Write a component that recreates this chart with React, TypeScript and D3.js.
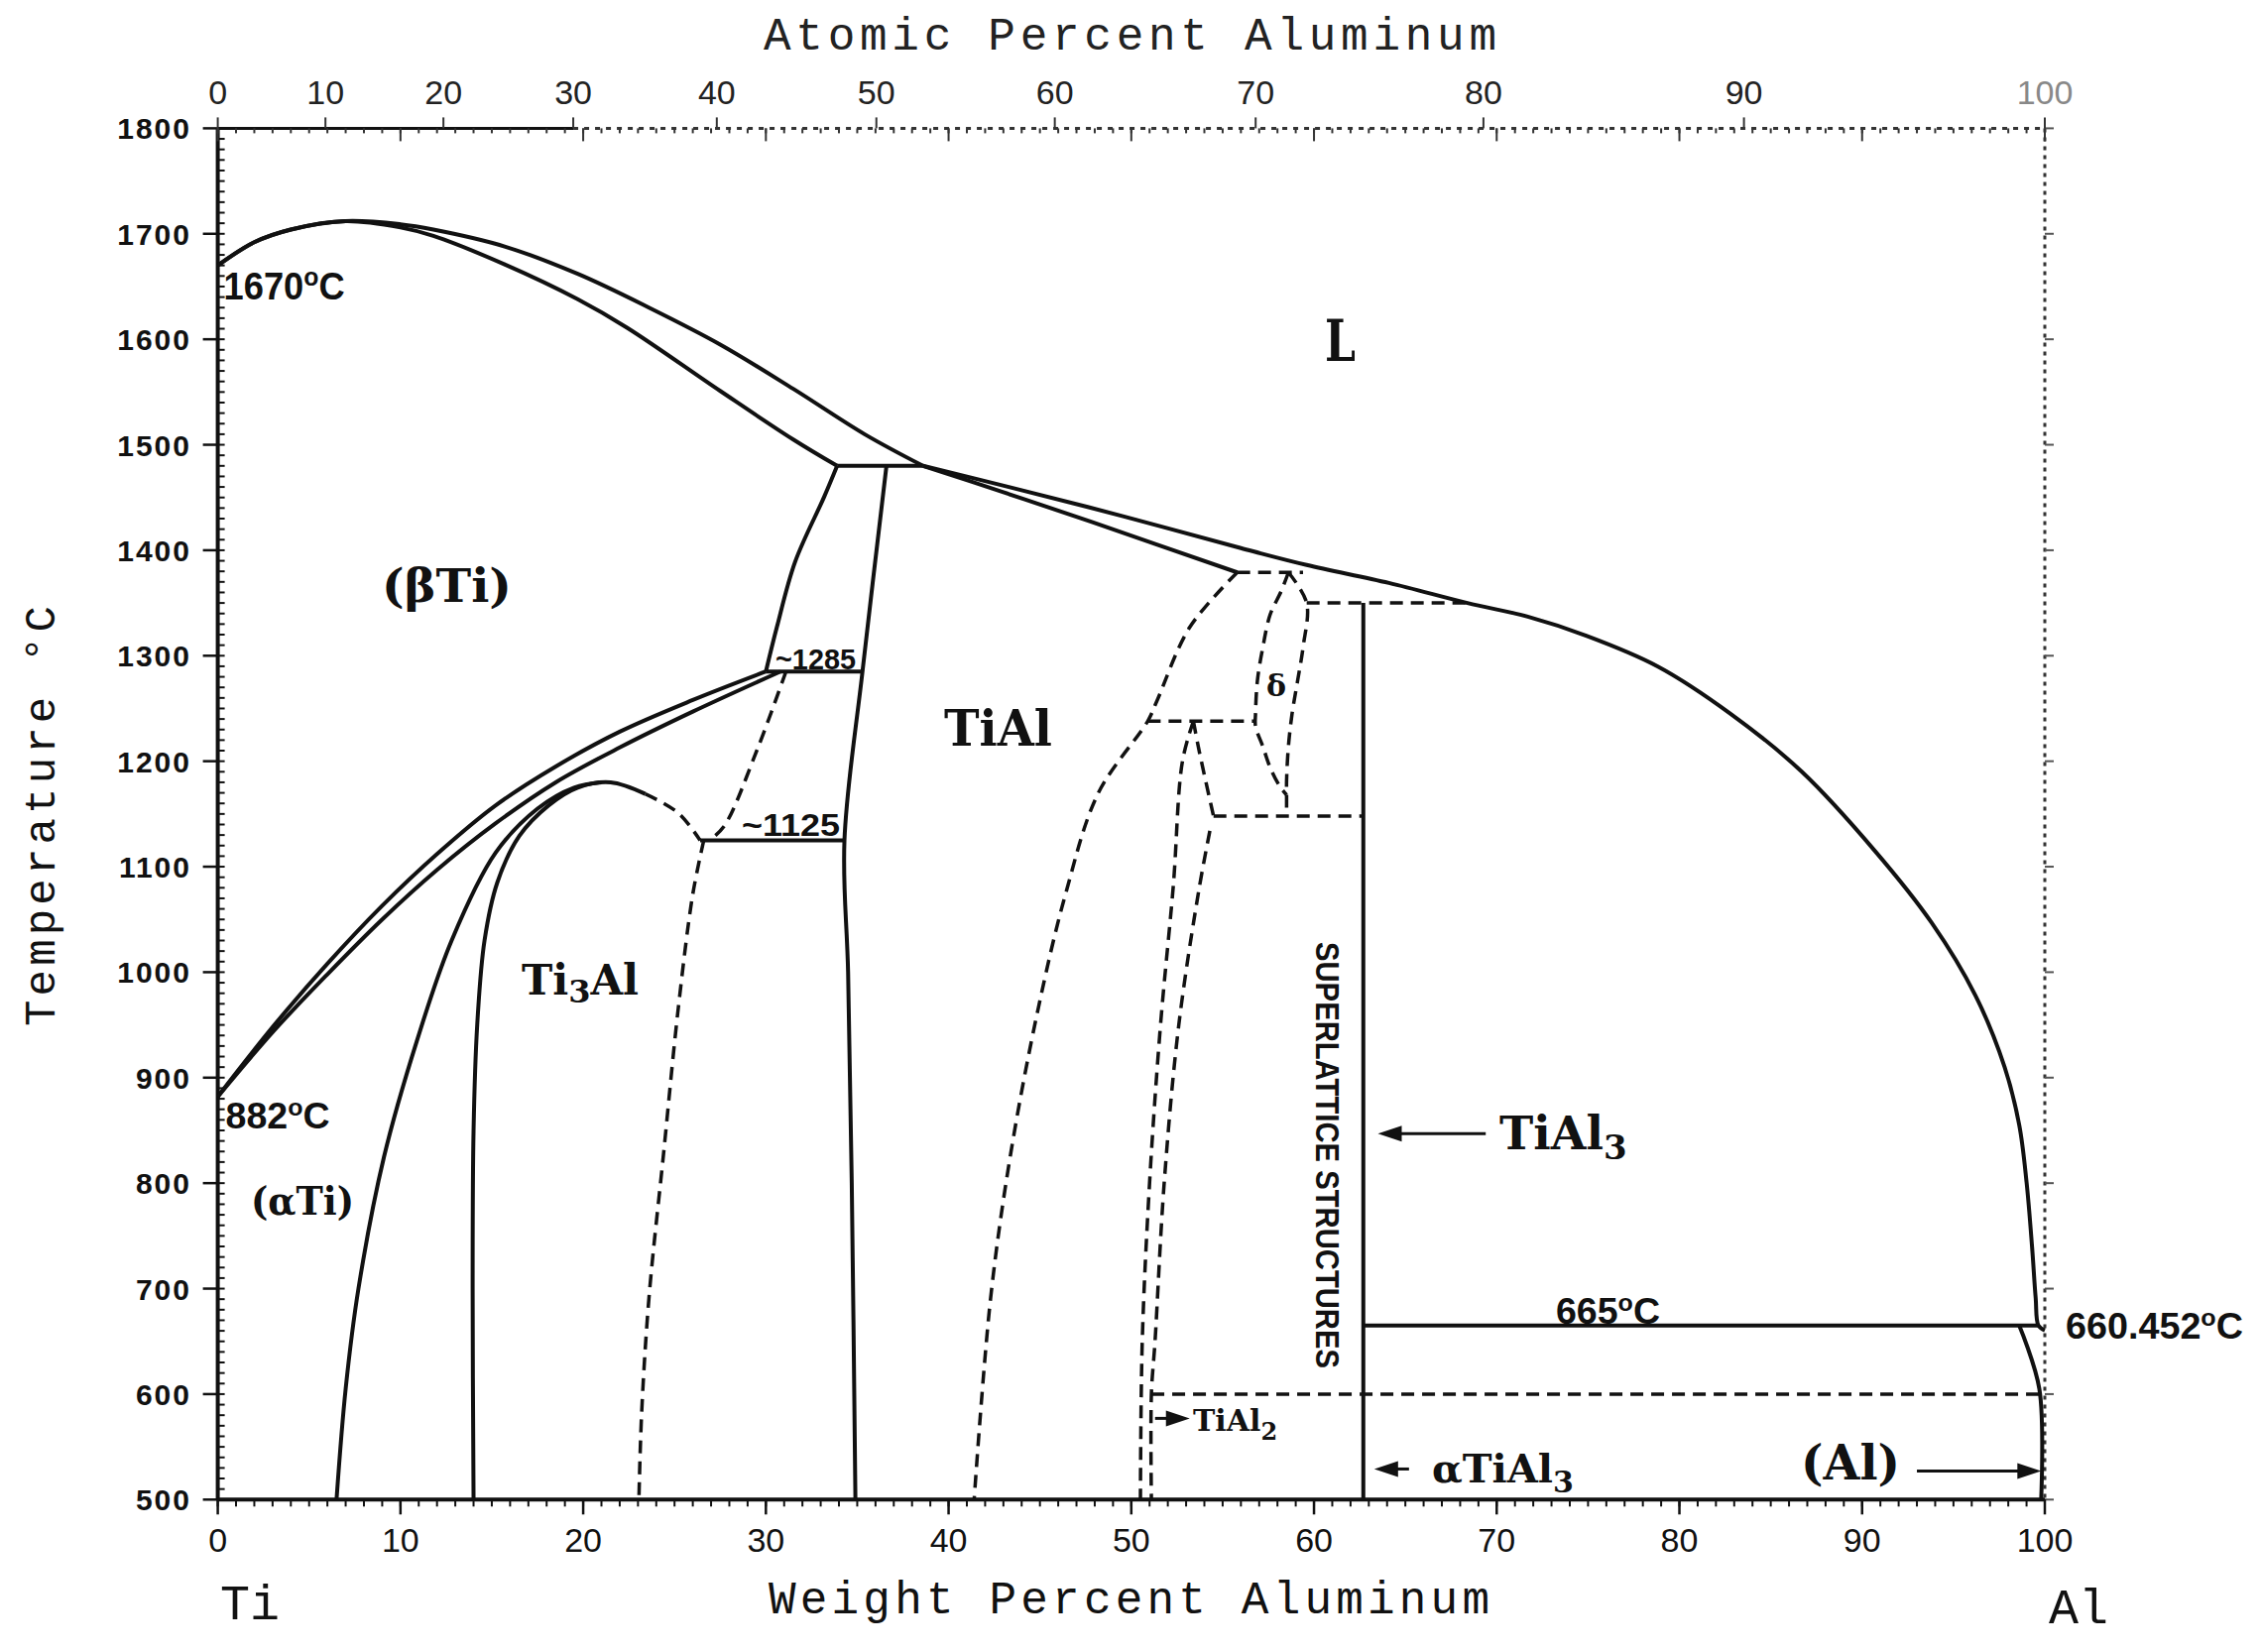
import React from 'react';
import * as d3 from 'd3';

type Pt = [number, number];

// axis ticks
const weightTicks = [0, 10, 20, 30, 40, 50, 60, 70, 80, 90, 100];
const atomicTicks = [0, 10, 20, 30, 40, 50, 60, 70, 80, 90, 100];
const tempTicks = [500, 600, 700, 800, 900, 1000, 1100, 1200, 1300, 1400, 1500, 1600, 1700, 1800];

// phase boundaries: [wt% Al, temperature °C]
const liquidusTi: Pt[] = [[0, 1670], [2, 1692], [4, 1704], [7, 1712], [10, 1709], [11.8, 1704], [15.7, 1688], [19.7, 1662], [23.6, 1630], [27.5, 1595], [31.5, 1553], [35.4, 1510], [38.6, 1480]];
const solidusTi: Pt[] = [[0, 1670], [2, 1692], [4, 1704], [7, 1712], [10, 1706], [11.8, 1698], [15.7, 1671], [19.7, 1638], [22.4, 1611], [27.5, 1551], [31.5, 1505], [33.9, 1480]];
const peritectic1480: Pt[] = [[33.9, 1480], [38.6, 1480]];
const alphaTop: Pt[] = [[33.9, 1480], [33.2, 1451], [31.6, 1389], [30.6, 1327], [30.0, 1285]];
const gammaLeft: Pt[] = [[36.6, 1480], [35.3, 1287], [34.3, 1125], [34.5, 1000], [34.7, 800], [34.9, 500]];
const line1285: Pt[] = [[30.0, 1285], [35.3, 1285]];
const line1125: Pt[] = [[26.4, 1125], [34.3, 1125]];
const betaTransus: Pt[] = [[0, 882], [3.1, 950], [6, 1008], [9, 1063], [12, 1112], [15.2, 1158], [18.5, 1195], [22, 1228], [26, 1258], [30, 1285]];
const alphaTransus: Pt[] = [[0, 882], [3.1, 945], [6, 998], [9, 1050], [12, 1097], [15.2, 1141], [18.5, 1180], [22, 1213], [26, 1247], [30.8, 1285]];
const alphaAlpha2: Pt[] = [[6.5, 500], [7.0, 605], [7.7, 700], [9.1, 825], [10.9, 935], [12.8, 1030], [15.2, 1113], [17.5, 1155], [19.5, 1175], [21, 1180]];
const alpha2Left: Pt[] = [[14.0, 500], [13.95, 700], [14.0, 850], [14.2, 950], [14.6, 1030], [15.3, 1085], [16.5, 1129], [18.1, 1158], [19.7, 1175], [21.5, 1180], [23.4, 1169]];
const liquidusAl: Pt[] = [[38.6, 1480], [43.3, 1460], [49.6, 1432], [56.0, 1402], [59.6, 1386], [64.1, 1369], [68.4, 1350], [71.7, 1337], [74.9, 1319], [78.8, 1290], [82.8, 1245], [86.7, 1190], [90.7, 1115], [93.8, 1047], [96.2, 978], [97.8, 910], [98.6, 855], [99.0, 801], [99.3, 740], [99.5, 691], [99.65, 665], [100, 660.452]];
const gammaSolidus: Pt[] = [[38.6, 1480], [43, 1455], [47.8, 1427], [55.8, 1379]];
const tial3Line: Pt[] = [[62.7, 1350], [62.7, 500]];
const line665: Pt[] = [[62.7, 665], [99.65, 665]];
const alSolvus: Pt[] = [[98.6, 665], [99.7, 605], [99.8, 500]];

// dashed (uncertain) boundaries
const alpha2Dome: Pt[] = [[23.4, 1169], [25.2, 1151], [26.4, 1125]];
const alphaGamma: Pt[] = [[31.1, 1285], [29.5, 1210], [27.7, 1138], [26.9, 1125]];
const alpha2Right: Pt[] = [[26.6, 1125], [26.0, 1074], [25.2, 965], [24.4, 828], [23.6, 691], [23.2, 582], [23.05, 500]];
const gammaRight: Pt[] = [[55.8, 1379], [53.2, 1327], [51.4, 1257], [50.9, 1238], [48.2, 1170], [46.4, 1074], [44.9, 965], [43.4, 828], [42.3, 691], [41.4, 500]];
const line1380: Pt[] = [[55.8, 1379], [59.4, 1379]];
const line1240: Pt[] = [[50.9, 1238], [56.8, 1238]];
const tial2Left: Pt[] = [[53.4, 1238], [52.8, 1200], [52.3, 1082], [51.6, 950], [51.0, 800], [50.6, 650], [50.5, 500]];
const tial2RightUpper: Pt[] = [[53.4, 1238], [53.7, 1211], [54.5, 1148]];
const tial2RightLower: Pt[] = [[54.3, 1134], [53.7, 1078], [52.6, 950], [51.8, 800], [51.3, 650], [51.1, 600], [51.1, 500]];
const line1150: Pt[] = [[54.5, 1148], [62.7, 1148]];
const deltaLeft: Pt[] = [[58.6, 1379], [58.2, 1361], [57.6, 1339], [57.2, 1308], [56.9, 1276], [56.8, 1245], [56.8, 1233], [57.2, 1214], [57.6, 1194], [58.1, 1177], [58.5, 1168]];
const deltaRight: Pt[] = [[58.6, 1379], [59.6, 1350], [59.4, 1308], [59.1, 1276], [58.8, 1245], [58.6, 1214], [58.5, 1182], [58.5, 1168], [58.5, 1148]];
const line1350: Pt[] = [[59.6, 1350], [68.4, 1350]];
const line600: Pt[] = [[51.1, 600], [100, 600]];

const atToWt = (a: number) => (a * 26.98) / (a * 26.98 + (100 - a) * 47.867) * 100;

export default function App() {
  const x = d3.scaleLinear().domain([0, 100]).range([219.6, 2062]);
  const y = d3.scaleLinear().domain([500, 1800]).range([1512.3, 129.4]);
  const smooth = d3.line<Pt>().x(d => x(d[0])).y(d => y(d[1])).curve(d3.curveCatmullRom.alpha(0.5));
  const straight = d3.line<Pt>().x(d => x(d[0])).y(d => y(d[1]));

  const solidCurves = [liquidusTi, solidusTi, alphaTop, gammaLeft, betaTransus, alphaTransus, alphaAlpha2, alpha2Left, liquidusAl, gammaSolidus, alSolvus];
  const solidStraight = [peritectic1480, line1285, line1125, tial3Line, line665];
  const dashedCurves = [alpha2Dome, alphaGamma, alpha2Right, gammaRight, tial2Left, tial2RightUpper, tial2RightLower, deltaLeft, deltaRight];
  const dashedStraight = [line1380, line1240, line1150, line1350, line600];

  const x0 = x(0), x1 = x(100), yTop = y(1800), yBot = y(500);
  const ink = '#111';
  const mono = "'Liberation Mono', monospace";
  const sans = "'Liberation Sans', Arial, sans-serif";
  const serif = "'DejaVu Serif', 'Liberation Serif', serif";

  const arrow = (tx: number, ty: number, dir: number) => {
    const l = 24, w = 8;
    return `${tx},${ty} ${tx - dir * l},${ty - w} ${tx - dir * l},${ty + w}`;
  };

  const minorT = d3.range(500, 1800, 10);
  const minorW = d3.range(0, 101, 1);

  return (
    <svg width={2280} height={1666} style={{ position: 'absolute', left: 0, top: 0, background: '#fff' }}>
      <rect width={2280} height={1666} fill="#fff" />

      {/* frame */}
      <line x1={x0} x2={x0} y1={yTop} y2={yBot} stroke={ink} strokeWidth={4} />
      <line x1={x0} x2={x1} y1={yBot} y2={yBot} stroke={ink} strokeWidth={4} />
      <line x1={x0} x2={x(atToWt(30))} y1={yTop} y2={yTop} stroke={ink} strokeWidth={3} />
      <line x1={x(atToWt(30))} x2={x1} y1={yTop} y2={yTop} stroke="#333" strokeWidth={3} strokeDasharray="5 6" />
      <line x1={x1} x2={x1} y1={yTop} y2={yBot} stroke="#333" strokeWidth={3} strokeDasharray="4 5" />

      {/* left axis */}
      {minorT.map(t => <line key={'ml' + t} x1={x0} x2={x0 + 7} y1={y(t)} y2={y(t)} stroke={ink} strokeWidth={2} />)}
      {tempTicks.map(t => (
        <g key={'l' + t}>
          <line x1={x0 - 15} x2={x0} y1={y(t)} y2={y(t)} stroke={ink} strokeWidth={2.5} />
          <line x1={x1} x2={x1 + 9} y1={y(t)} y2={y(t)} stroke="#555" strokeWidth={2} />
          <text x={193} y={y(t) + 11} textAnchor="end" fontFamily={sans} fontWeight="bold" fontSize={30} letterSpacing={2} fill={ink}>{t}</text>
        </g>
      ))}

      {/* bottom axis */}
      {minorW.map(w => <line key={'mb' + w} x1={x(w)} x2={x(w)} y1={yBot} y2={yBot + 7} stroke={ink} strokeWidth={2} />)}
      {minorW.map(w => <line key={'mt' + w} x1={x(w)} x2={x(w)} y1={yTop} y2={yTop + 5} stroke="#333" strokeWidth={2} />)}
      {weightTicks.map(w => (
        <g key={'b' + w}>
          <line x1={x(w)} x2={x(w)} y1={yBot} y2={yBot + 15} stroke={ink} strokeWidth={2.5} />
          <line x1={x(w)} x2={x(w)} y1={yTop} y2={yTop + 13} stroke="#333" strokeWidth={2} />
          <text x={x(w)} y={1565} textAnchor="middle" fontFamily={sans} fontSize={34} fill={ink}>{w}</text>
        </g>
      ))}

      {/* top axis, atomic percent */}
      {atomicTicks.map(a => (
        <g key={'t' + a}>
          <line x1={x(atToWt(a))} x2={x(atToWt(a))} y1={yTop - 11} y2={yTop} stroke="#333" strokeWidth={2} />
          <text x={x(atToWt(a))} y={105} textAnchor="middle" fontFamily={sans} fontSize={34} fill={a === 100 ? '#888' : '#222'}>{a}</text>
        </g>
      ))}

      {/* phase boundaries */}
      <g fill="none" stroke={ink} strokeWidth={4} strokeLinejoin="round">
        {solidCurves.map((p, i) => <path key={'sc' + i} d={smooth(p) || ''} />)}
        {solidStraight.map((p, i) => <path key={'ss' + i} d={straight(p) || ''} />)}
      </g>
      <g fill="none" stroke={ink} strokeWidth={3.5} strokeDasharray="13 8">
        {dashedCurves.map((p, i) => <path key={'dc' + i} d={smooth(p) || ''} />)}
        {dashedStraight.map((p, i) => <path key={'ds' + i} d={straight(p) || ''} />)}
      </g>

      {/* axis titles */}
      <text x={770} y={50} fontFamily={mono} fontSize={46} textLength={739} lengthAdjust="spacing" fill="#222">Atomic Percent Aluminum</text>
      <text x={775} y={1627} fontFamily={mono} fontSize={46} textLength={727} lengthAdjust="spacing" fill={ink}>Weight Percent Aluminum</text>
      <text transform="translate(55,823) rotate(-90)" textAnchor="middle" fontFamily={mono} fontSize={44} textLength={424} lengthAdjust="spacing" fill={ink}>Temperature °C</text>
      <text x={222} y={1633} fontFamily={mono} fontSize={50} fill={ink}>Ti</text>
      <text x={2066} y={1637} fontFamily={mono} fontSize={50} fill={ink}>Al</text>

      {/* temperature notes */}
      <g fontFamily={sans} fontWeight="bold" fill={ink}>
        <text x={x(0) + 6} y={302} fontSize={38} textLength={122} lengthAdjust="spacingAndGlyphs">1670<tspan dy={-14} fontSize={26}>o</tspan><tspan dy={14}>C</tspan></text>
        <text x={x(0) + 8} y={1138} fontSize={36} textLength={105} lengthAdjust="spacingAndGlyphs">882<tspan dy={-13} fontSize={24}>o</tspan><tspan dy={13}>C</tspan></text>
        <text x={782} y={y(1287)} fontSize={30} textLength={81} lengthAdjust="spacingAndGlyphs">~1285</text>
        <text x={748} y={y(1129)} fontSize={32} textLength={99} lengthAdjust="spacingAndGlyphs">~1125</text>
        <text x={1569} y={y(667)} fontSize={36} textLength={105} lengthAdjust="spacingAndGlyphs">665<tspan dy={-13} fontSize={24}>o</tspan><tspan dy={13}>C</tspan></text>
        <text x={2083} y={1350} fontSize={36} textLength={179} lengthAdjust="spacingAndGlyphs">660.452<tspan dy={-13} fontSize={24}>o</tspan><tspan dy={13}>C</tspan></text>
        <text transform="translate(1327,1165) rotate(90)" textAnchor="middle" fontSize={34} textLength={430} lengthAdjust="spacingAndGlyphs">SUPERLATTICE STRUCTURES</text>
      </g>

      {/* phase labels */}
      <g fontFamily={serif} fontWeight="bold" fill={ink}>
        <text x={1336} y={364} fontSize={58} textLength={31} lengthAdjust="spacingAndGlyphs">L</text>
        <text x={385} y={607} fontSize={46} textLength={131} lengthAdjust="spacingAndGlyphs">(βTi)</text>
        <text x={253} y={1225} fontSize={40} textLength={104} lengthAdjust="spacingAndGlyphs">(αTi)</text>
        <text x={952} y={752} fontSize={50} textLength={109} lengthAdjust="spacingAndGlyphs">TiAl</text>
        <text x={526} y={1003} fontSize={42}>Ti<tspan dy={8} fontSize={32}>3</tspan><tspan dy={-8}>Al</tspan></text>
        <text x={1277} y={702} fontSize={30}>δ</text>
        <text x={1512} y={1159} fontSize={46}>TiAl<tspan dy={10} fontSize={34}>3</tspan></text>
        <text x={1816} y={1492} fontSize={48} textLength={100} lengthAdjust="spacingAndGlyphs">(Al)</text>
        <text x={1444} y={1495} fontSize={40}>αTiAl<tspan dy={10} fontSize={30}>3</tspan></text>
        <text x={1203} y={1443} fontSize={30}>TiAl<tspan dy={9} fontSize={24}>2</tspan></text>
      </g>

      {/* arrows */}
      <g stroke={ink} strokeWidth={3}>
        <line x1={x(63.5) + 20} x2={x(69.4)} y1={y(847)} y2={y(847)} />
        <line x1={x(93.0)} x2={x(99.8) - 20} y1={y(527)} y2={y(527)} />
        <line x1={x(63.3) + 20} x2={x(65.2)} y1={y(529)} y2={y(529)} />
        <line x1={x(51.3)} x2={x(53.2) - 20} y1={y(577)} y2={y(577)} />
      </g>
      <g fill={ink}>
        <polygon points={arrow(x(63.5), y(847), -1)} />
        <polygon points={arrow(x(99.8), y(527), 1)} />
        <polygon points={arrow(x(63.3), y(529), -1)} />
        <polygon points={arrow(x(53.2), y(577), 1)} />
      </g>
    </svg>
  );
}
